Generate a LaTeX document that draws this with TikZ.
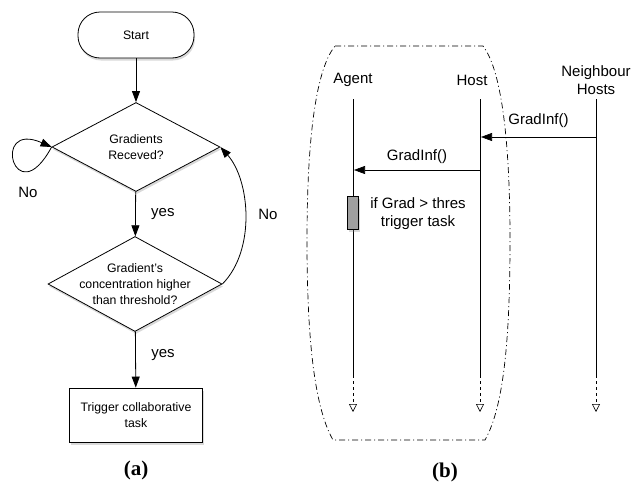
\documentclass[tikz,border=0pt]{standalone}
\usepackage{fontspec}
\setmainfont{Liberation Sans}
\newfontfamily\capserif{Liberation Serif}
\usetikzlibrary{shapes.geometric,arrows.meta,shadows}

\begin{document}
\begin{tikzpicture}[x=1pt, y=-1pt, line width=0.8pt, >={Triangle[length=11pt,width=8pt]},
  shade/.style = {drop shadow={shadow xshift=1pt, shadow yshift=-2.5pt, opacity=0.3}},
  start/.style = {draw, rectangle, rounded corners=22pt, minimum width=116pt, minimum height=46pt, fill=white, shade, font=\fontsize{12.3}{16}\selectfont},
  decision/.style = {draw, diamond, aspect=1.83, inner sep=-8pt, align=center, fill=white, shade, font=\fontsize{12.3}{16}\selectfont},
  process/.style = {draw, rectangle, minimum width=133pt, minimum height=54pt, align=center, fill=white, shade, font=\fontsize{12.3}{16}\selectfont},
  lbl/.style = {font=\fontsize{15}{18}\selectfont},
  caption/.style = {font=\capserif\bfseries\fontsize{21}{24}\selectfont},
  life/.style = {line width=0.6pt},
  tail/.style = {line width=0.6pt, dashed, -{Triangle[open,length=8pt,width=8pt]}},
  frame/.style = {line width=0.7pt, dash pattern=on 6pt off 3pt on 1pt off 3pt}]
  \useasboundingbox (0,0) rectangle (641,490);

  \node[start] (start) at (136,35) {Start};
  \node[decision, minimum width=168pt, minimum height=89pt] (recv) at (136,147) {Gradients\\Receved?};
  \node[decision, minimum width=174pt, minimum height=95pt] (thres) at (135,284) {Gradient's\\concentration higher\\than threshold?};
  \node[process] (task) at (136,415) {Trigger collaborative\\task};
  \draw[->] (start) -- (recv);
  \draw[->] (recv) -- node[lbl, right=12pt] {yes} (thres);
  \draw[->] (thres) -- node[lbl, right=12pt, pos=0.42] {yes} (task);
  \draw[->] (recv.west) .. controls (15,215) and (-10,120) .. (recv.west);
  \node[lbl] (noloop) at (28,192) {No};
  \draw[->] (thres.east) .. controls (256,250) and (250,180) .. (recv.east);
  \node[lbl] (noback) at (268,214) {No};
  \node[caption] (capa) at (136,470) {(a)};

  \draw[frame] (335,46) -- (483,46) .. controls (503,72) and (510,150) .. (510,240) .. controls (510,330) and (505,405) .. (485,440) -- (333,440) .. controls (313,405) and (307,330) .. (307,240) .. controls (307,150) and (314,72) .. (335,46) -- cycle;

  \node[lbl] (agent) at (353,80) {Agent};
  \node[lbl] (host) at (472,80) {Host};
  \node[lbl, align=center] (nbr) at (596,80) {Neighbour\\Hosts};
  \foreach \n/\x in {agent/353, host/480, nbr/596} {
    \coordinate (\n-top) at (\x,99);
    \coordinate (\n-mid) at (\x,375);
    \coordinate (\n-end) at (\x,412);
    \draw[life] (\n-top) -- (\n-mid);
    \draw[tail] (\n-mid) -- (\n-end);
  }
  \coordinate (m1s) at (596,137);
  \coordinate (m1e) at (481,137);
  \coordinate (m2s) at (480,170);
  \coordinate (m2e) at (354,170);
  \draw[->, life] (m1s) -- node[lbl, above=6pt] {GradInf()} (m1e);
  \draw[->, life] (m2s) -- node[lbl, above=3pt] {GradInf()} (m2e);
  \node[draw, fill=gray!75, line width=0.6pt, minimum width=11pt, minimum height=33pt, inner sep=0pt, shade] (act) at (353,213) {};
  \node[lbl, align=center] (cond) at (418,214) {if Grad > thres\\trigger task};
  \node[caption] (capb) at (445,472) {(b)};
\end{tikzpicture}
\end{document}
